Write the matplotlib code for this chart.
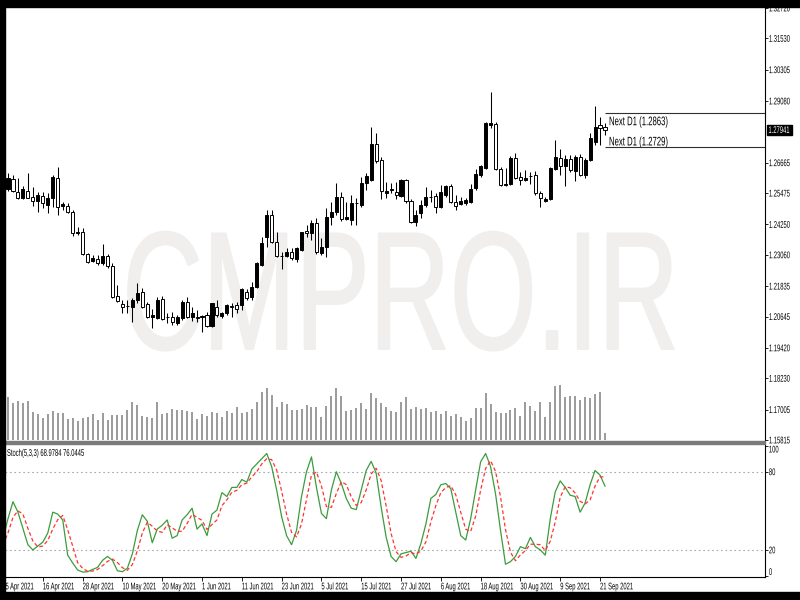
import numpy as np
import pandas as pd
import matplotlib
matplotlib.use('Agg')
import matplotlib.pyplot as plt
from matplotlib import patheffects
from matplotlib.transforms import Affine2D
from matplotlib.textpath import TextToPath
from matplotlib.patches import Rectangle

# daily bars, 6 Apr 2021 .. 22 Sep 2021 (6 Apr sits under the left frame)
dates = pd.bdate_range('2021-04-06', '2021-09-22')

opens = [
    1.2528,
    1.2564, 1.2603, 1.2552, 1.2529, 1.2556, 1.2532, 1.2517, 1.2536, 1.2501, 1.2529,
    1.2607, 1.2497, 1.2497, 1.2474, 1.2392, 1.2395, 1.2309, 1.2282, 1.2290, 1.2274,
    1.2302, 1.2262, 1.2145, 1.2114, 1.2106, 1.2102, 1.2129, 1.2161, 1.2114, 1.2063,
    1.2059, 1.2133, 1.2063, 1.2063, 1.2039, 1.2059, 1.2122, 1.2063, 1.2063, 1.2063,
    1.2071, 1.2028, 1.2102, 1.2067, 1.2079, 1.2106, 1.2110, 1.2110, 1.2161, 1.2141,
    1.2180, 1.2266, 1.2376, 1.2462, 1.2356, 1.2302, 1.2302, 1.2317, 1.2290, 1.2325,
    1.2399, 1.2392, 1.2431, 1.2313, 1.2337, 1.2454, 1.2474, 1.2532, 1.2446, 1.2442,
    1.2509, 1.2501, 1.2587, 1.2599, 1.2740, 1.2677, 1.2548, 1.2560, 1.2552, 1.2536,
    1.2599, 1.2517, 1.2435, 1.2470, 1.2501, 1.2532, 1.2536, 1.2493, 1.2540, 1.2575,
    1.2513, 1.2505, 1.2509, 1.2513, 1.2568, 1.2619, 1.2646, 1.2816, 1.2818, 1.2642,
    1.2579, 1.2583, 1.2685, 1.2611, 1.2599, 1.2615, 1.2619, 1.2548, 1.2517, 1.2525,
    1.2642, 1.2685, 1.2654, 1.2681, 1.2634, 1.2689, 1.2619, 1.2677, 1.2748, 1.2814,
    1.2806]
highs = [
    1.2590,
    1.2626, 1.2619, 1.2607, 1.2575, 1.2626, 1.2572, 1.2552, 1.2552, 1.2548, 1.2619,
    1.2650, 1.2513, 1.2509, 1.2482, 1.2415, 1.2411, 1.2313, 1.2305, 1.2305, 1.2349,
    1.2309, 1.2274, 1.2188, 1.2129, 1.2129, 1.2137, 1.2196, 1.2176, 1.2122, 1.2094,
    1.2141, 1.2145, 1.2079, 1.2082, 1.2071, 1.2129, 1.2141, 1.2102, 1.2090, 1.2071,
    1.2082, 1.2118, 1.2129, 1.2082, 1.2114, 1.2118, 1.2122, 1.2176, 1.2172, 1.2200,
    1.2278, 1.2376, 1.2482, 1.2482, 1.2395, 1.2317, 1.2333, 1.2333, 1.2337, 1.2395,
    1.2423, 1.2442, 1.2450, 1.2372, 1.2489, 1.2513, 1.2587, 1.2552, 1.2513, 1.2540,
    1.2529, 1.2611, 1.2626, 1.2806, 1.2783, 1.2689, 1.2591, 1.2587, 1.2591, 1.2603,
    1.2603, 1.2525, 1.2482, 1.2521, 1.2572, 1.2560, 1.2548, 1.2579, 1.2579, 1.2583,
    1.2540, 1.2532, 1.2529, 1.2583, 1.2642, 1.2658, 1.2826, 1.2943, 1.2826, 1.2650,
    1.2646, 1.2693, 1.2705, 1.2630, 1.2638, 1.2630, 1.2634, 1.2556, 1.2532, 1.2650,
    1.2756, 1.2720, 1.2697, 1.2697, 1.2697, 1.2701, 1.2685, 1.2783, 1.2889, 1.2845,
    1.2822]
lows = [
    1.2515,
    1.2556, 1.2552, 1.2525, 1.2525, 1.2527, 1.2497, 1.2474, 1.2489, 1.2470, 1.2493,
    1.2462, 1.2482, 1.2470, 1.2380, 1.2384, 1.2305, 1.2274, 1.2278, 1.2266, 1.2266,
    1.2255, 1.2137, 1.2122, 1.2079, 1.2079, 1.2043, 1.2118, 1.2098, 1.2059, 1.2020,
    1.2055, 1.2051, 1.2039, 1.2032, 1.2032, 1.2051, 1.2059, 1.2047, 1.2043, 1.2004,
    1.2024, 1.2024, 1.2063, 1.2059, 1.2071, 1.2063, 1.2079, 1.2090, 1.2129, 1.2129,
    1.2176, 1.2262, 1.2337, 1.2352, 1.2298, 1.2251, 1.2298, 1.2286, 1.2278, 1.2321,
    1.2376, 1.2364, 1.2309, 1.2305, 1.2298, 1.2423, 1.2462, 1.2439, 1.2442, 1.2423,
    1.2423, 1.2493, 1.2560, 1.2595, 1.2665, 1.2525, 1.2529, 1.2548, 1.2525, 1.2532,
    1.2509, 1.2431, 1.2419, 1.2450, 1.2493, 1.2513, 1.2470, 1.2489, 1.2532, 1.2509,
    1.2482, 1.2501, 1.2501, 1.2509, 1.2560, 1.2611, 1.2642, 1.2802, 1.2638, 1.2575,
    1.2575, 1.2579, 1.2603, 1.2579, 1.2595, 1.2583, 1.2540, 1.2493, 1.2513, 1.2521,
    1.2638, 1.2619, 1.2575, 1.2630, 1.2595, 1.2615, 1.2607, 1.2673, 1.2736, 1.2736,
    1.2775]
closes = [
    1.2562,
    1.2607, 1.2556, 1.2529, 1.2564, 1.2529, 1.2517, 1.2540, 1.2509, 1.2529, 1.2611,
    1.2493, 1.2505, 1.2474, 1.2392, 1.2395, 1.2309, 1.2278, 1.2294, 1.2274, 1.2302,
    1.2262, 1.2141, 1.2125, 1.2102, 1.2104, 1.2129, 1.2157, 1.2102, 1.2063, 1.2071,
    1.2129, 1.2055, 1.2061, 1.2043, 1.2063, 1.2122, 1.2063, 1.2079, 1.2059, 1.2067,
    1.2028, 1.2118, 1.2071, 1.2079, 1.2110, 1.2102, 1.2094, 1.2172, 1.2137, 1.2180,
    1.2274, 1.2352, 1.2462, 1.2356, 1.2302, 1.2300, 1.2317, 1.2294, 1.2333, 1.2395,
    1.2392, 1.2431, 1.2317, 1.2337, 1.2454, 1.2474, 1.2532, 1.2446, 1.2454, 1.2509,
    1.2507, 1.2587, 1.2615, 1.2740, 1.2673, 1.2556, 1.2556, 1.2562, 1.2540, 1.2599,
    1.2517, 1.2435, 1.2462, 1.2501, 1.2532, 1.2534, 1.2493, 1.2552, 1.2575, 1.2513,
    1.2497, 1.2517, 1.2521, 1.2564, 1.2622, 1.2654, 1.2822, 1.2822, 1.2642, 1.2579,
    1.2583, 1.2685, 1.2607, 1.2599, 1.2607, 1.2613, 1.2548, 1.2529, 1.2525, 1.2646,
    1.2689, 1.2654, 1.2681, 1.2638, 1.2689, 1.2619, 1.2677, 1.2763, 1.2806, 1.2804,
    1.27941]
volumes = [
    120000,
    129900, 111000, 117900, 111000, 117900, 84900, 78000, 66000, 78000, 87000,
    81000, 81000, 63000, 66000, 57000, 66000, 69900, 78000, 60000, 81900,
    60000, 75000, 75000, 75000, 90000, 114000, 105000, 72900, 69900, 66000,
    114900, 78000, 81900, 92100, 90000, 90000, 87900, 84900, 62100, 77100,
    72900, 83100, 81900, 69900, 87900, 80100, 99900, 81900, 84900, 93000,
    114900, 143100, 155100, 135000, 99900, 113100, 108000, 90000, 90000, 92100,
    105000, 99900, 98100, 69900, 102900, 132000, 155100, 132900, 87900, 90000,
    95100, 110100, 93000, 140100, 126900, 110100, 99900, 87900, 84900, 113100,
    129900, 93000, 98100, 93000, 95100, 84900, 87900, 77100, 87900, 72000,
    77100, 68100, 57000, 65100, 95100, 95100, 140100, 108000, 84900, 80100,
    81900, 90000, 95100, 72000, 113100, 102000, 87900, 113100, 68100, 113100,
    162900, 165000, 129900, 132000, 132000, 120000, 129900, 125100, 138000, 143100,
    20100]
stoch_k = [
    29,
    44, 57, 49, 36.5, 24, 20, 23, 26, 33, 49,
    47.5, 43, 16, 10, 4.6, 3, 3.3, 5, 6.6, 12,
    15, 12, 4, 3.3, 6, 17, 35, 47, 42, 25.5,
    36, 39, 43, 29, 31, 43, 47, 52, 36, 40,
    31, 47.5, 50.6, 64, 61, 68, 68, 74, 72, 82,
    86, 90, 94, 84, 66, 45.5, 31, 24, 35, 61,
    80, 91.4, 68, 48, 44, 66, 80, 71, 59.5, 52,
    51, 66, 81, 88, 79, 53, 30, 15, 11, 17,
    18, 19, 13.5, 25, 40, 59.5, 62.6, 70, 71, 67,
    49, 31, 27.6, 44, 66, 87.6, 94, 84, 63, 35,
    9, 11, 15, 22.5, 21, 29.6, 22.5, 20, 16, 44,
    64.6, 73, 68, 62, 61, 49, 56, 70, 81, 77.4,
    68.9784]
stoch_d = [
    24,
    33, 45, 50, 47.5, 36.5, 26.8, 22.3, 23, 27.3, 36,
    43.2, 46.5, 35.5, 23, 10.2, 5.9, 3.6, 3.8, 5, 7.9,
    11.2, 13, 10.3, 6.4, 4.4, 8.8, 19.3, 33, 41.3, 38.2,
    34.5, 33.5, 39.3, 37, 34.3, 34.3, 40.3, 47.3, 45, 42.7,
    35.7, 39.5, 43, 54, 58.5, 64.3, 65.7, 70, 71.3, 76,
    80, 86, 90, 89.3, 81.3, 65.2, 47.5, 33.5, 30, 40,
    58.7, 77.5, 79.8, 69.1, 53.3, 52.7, 63.3, 72.3, 70.2, 60.8,
    54.2, 56.3, 66, 78.3, 82.7, 73.3, 54, 32.7, 18.7, 14.3,
    15.3, 18, 16.8, 19.2, 26.2, 41.5, 54, 64, 67.9, 69.3,
    62.3, 49, 35.9, 34.2, 45.9, 65.9, 82.5, 88.5, 80.3, 60.7,
    35.7, 18.3, 11.7, 16.2, 19.5, 24.4, 24.4, 24, 19.5, 26.7,
    41.5, 60.5, 68.5, 67.7, 63.7, 57.3, 55.3, 58.3, 69, 76.1,
    76.0445]

price_ticks = [1.32720, 1.31530, 1.30305, 1.29080, 1.26665, 1.25475, 1.24250,
               1.23060, 1.21835, 1.20645, 1.19420, 1.18230, 1.17005, 1.15815]
label_dates = ['2021-04-16', '2021-04-28', '2021-05-10', '2021-05-20', '2021-06-01',
               '2021-06-11', '2021-06-23', '2021-07-05', '2021-07-15', '2021-07-27',
               '2021-08-06', '2021-08-18', '2021-08-30', '2021-09-09', '2021-09-21']
first_label = '5 Apr 2021'
next_d1 = [1.2863, 1.2729]
stoch_levels = [20, 80]


class Stretch(patheffects.AbstractPathEffect):
    """the screenshot is squashed sideways: draw small text taller"""
    def __init__(self, sy, lw=0, yfrac=0.358):
        super().__init__()
        self.sy = sy
        self.lw = lw
        self.yfrac = yfrac

    def draw_path(self, renderer, gc, tpath, affine, rgbFace=None):
        m = affine.get_matrix()
        em = m[1, 1] * TextToPath.FONT_SCALE
        y0 = m[1, 2] + self.yfrac * em
        st = Affine2D().translate(0, -y0).scale(1, self.sy).translate(0, y0)
        gc0 = renderer.new_gc()
        gc0.copy_properties(gc)
        if self.lw:
            gc0.set_linewidth(self.lw)
            gc0.set_foreground(rgbFace)
        renderer.draw_path(gc0, tpath, affine + st, rgbFace)
        gc0.restore()


plt.rcParams['font.family'] = ['Liberation Sans', 'DejaVu Sans']
SQ = 0.6
FS = 7 * SQ
tall = [Stretch(1 / SQ)]

fig = plt.figure(figsize=(8, 6), dpi=100)
fig.patch.set_facecolor('white')


def px_rect(x0, y0, x1, y1):
    return [x0 / 800, 1 - y1 / 600, (x1 - x0) / 800, (y1 - y0) / 600]


ax = fig.add_axes(px_rect(5, 8, 765, 440))
sax = fig.add_axes(px_rect(5, 444, 765, 577), sharex=ax)
vax = ax.twinx()

x = np.arange(len(dates))
o, h, l, c = map(np.array, (opens, highs, lows, closes))
up = c >= o

# candles
ax.vlines(x, l, h, color='black', lw=0.75, zorder=2)
ax.bar(x, np.abs(c - o), bottom=np.minimum(o, c), width=0.62,
       color=np.where(up, 'black', 'white'), edgecolor='black', lw=0.7, zorder=3)

# watermark
ax.text(0.1546, 0.2106, 'CMPRO.IR', transform=ax.transAxes, fontsize=121 * 0.662,
        color='#f1eeee', ha='left', va='baseline', zorder=0.5,
        path_effects=[Stretch(1 / 0.662, lw=1.4, yfrac=0)])

# next D1 levels
ax.hlines(next_d1, x[-1], 160, color='#303030', lw=0.8, zorder=4)
ax.annotate(f'Next D1 ({next_d1[0]:.4f})', xy=(x[-1] + 0.8, next_d1[0]),
            xytext=(0, -6), textcoords='offset pixels', va='top', ha='left',
            fontsize=9 * 0.62, path_effects=[Stretch(1 / 0.62)])
ax.annotate(f'Next D1 ({next_d1[1]:.4f})', xy=(x[-1] + 0.8, next_d1[1]),
            xytext=(0, 1), textcoords='offset pixels', va='bottom', ha='left',
            fontsize=9 * 0.62, path_effects=[Stretch(1 / 0.62)])

ax.set_xlim(0.397, 153.16)
ax.set_ylim(1.15815, 1.3272)
ax.yaxis.tick_right()
ax.set_yticks(price_ticks, labels=[f'{p:.5f}' for p in price_ticks])
ax.tick_params(axis='y', length=2, width=0.6, pad=0.8, labelsize=FS)
ax.tick_params(axis='x', bottom=False, labelbottom=False)
for s in ['top', 'left', 'bottom']:
    ax.spines[s].set_visible(False)
ax.spines['right'].set_linewidth(0.8)
for t in ax.get_yticklabels():
    t.set_path_effects(tall)

# current price box
last = closes[-1]
ax.add_patch(Rectangle((1.0026, last - 0.0021), 0.033, 0.0042,
                       transform=ax.get_yaxis_transform(), color='black',
                       clip_on=False, zorder=5))
ax.text(1.0045, last, f'{last:.5f}', transform=ax.get_yaxis_transform(),
        color='white', va='center', ha='left', fontsize=FS, zorder=6,
        path_effects=tall, clip_on=False)

# volumes
vax.vlines(x, 0, volumes, color='#808080', lw=1.1)
vax.set_ylim(0, 1296000)
vax.axis('off')

# stochastic
sax.plot(x, stoch_k, color='#3c9c3c', lw=0.9)
sax.plot(x, stoch_d, color='#ff3333', lw=0.9, ls=(0, (3, 2)))
for lv in stoch_levels:
    sax.axhline(lv, color='#a8a8a8', lw=0.8, ls=(0, (1.5, 2.5)), zorder=0)
sax.set_ylim(-0.77, 101.3)
sax.yaxis.tick_right()
sax.set_yticks([0, 20, 80, 100], labels=['0', '20', '80', '100'])
sax.tick_params(axis='y', length=2, width=0.6, pad=0.8, labelsize=FS)
for t in sax.get_yticklabels():
    t.set_path_effects(tall)
    if t.get_text() == '100':
        t.set_va('top')
        t.set_path_effects([Stretch(1 / SQ, yfrac=0.716)])
    elif t.get_text() == '0':
        t.set_va('bottom')
        t.set_path_effects([Stretch(1 / SQ, yfrac=0)])
for s in ['top', 'left']:
    sax.spines[s].set_visible(False)
sax.spines['right'].set_linewidth(0.8)
sax.spines['bottom'].set_linewidth(0.8)

sax.text(0.0026, 0.951, f'Stoch(5,3,3) {stoch_k[-1]:.4f} {stoch_d[-1]:.4f}',
         transform=sax.transAxes, va='top', ha='left', fontsize=FS,
         path_effects=tall)

idx = [dates.get_loc(pd.Timestamp(d)) for d in label_dates]
sax.set_xticks(idx)
sax.tick_params(axis='x', length=3, width=0.6, labelbottom=False)
for i, d in zip(idx, label_dates):
    ts = pd.Timestamp(d)
    sax.annotate(f'{ts.day} {ts:%b %Y}', xy=(i, 0), xycoords=('data', 'axes fraction'),
                 xytext=(0, -7), textcoords='offset pixels', va='top', ha='left',
                 fontsize=FS, path_effects=tall, annotation_clip=False)
sax.annotate(first_label, xy=(0.0007, 0), xycoords='axes fraction',
             xytext=(0, -7), textcoords='offset pixels', va='top', ha='left',
             fontsize=FS, path_effects=tall, annotation_clip=False)

# panel separator and black frame of the screenshot
fig.add_artist(Rectangle((5 / 800, 1 - 444 / 600), 760 / 800, 3 / 600,
                         transform=fig.transFigure, color='#7a7a7a', zorder=8))
for r in [(0, 0, 5 / 800, 1), (0, 1 - 7 / 600, 1, 7 / 600), (0, 0, 1, 8 / 600)]:
    fig.add_artist(Rectangle(r[:2], r[2], r[3], transform=fig.transFigure,
                             color='black', zorder=10))

fig.savefig('out.png', dpi=100)
